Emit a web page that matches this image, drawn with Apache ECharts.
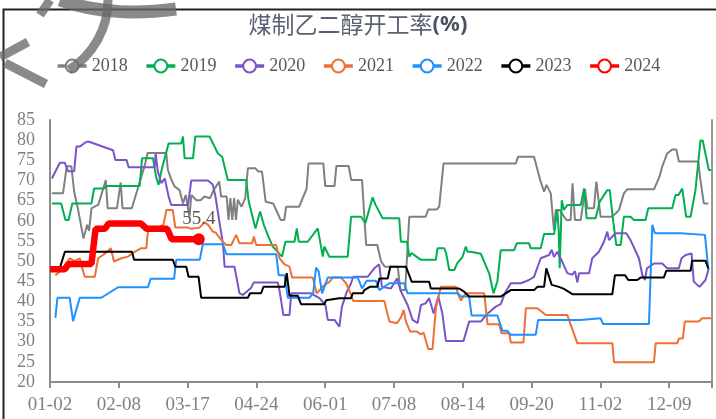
<!DOCTYPE html>
<html>
<head>
<meta charset="utf-8">
<script src="https://cdn.jsdelivr.net/npm/echarts@6/dist/echarts.min.js"></script>
<style>
  html, body { margin: 0; padding: 0; background: #fff; }
  #chart { width: 716px; height: 419px; }
</style>
</head>
<body>
<div id="chart"></div>
<script>
// x = day index counted from 01-02, y = 开工率 (%)
var tickLabels = ["01-02", "02-08", "03-17", "04-24", "06-01", "07-08", "08-14", "09-20", "11-02", "12-09"];
var years = ["2018", "2019", "2020", "2021", "2022", "2023", "2024"];
var colors = ["#808080", "#00b050", "#7b55c8", "#ed7035", "#1e90ff", "#000000", "#ff0000"];

var s2018 = [[1,66.8],[7,66.8],[9,73.5],[11.5,73.5],[13,67.2],[15,63],[18,55.6],[20,59],[21,57.5],[22.3,63.1],[26,64],[30,70.1],[31,63.1],[36,63.1],[38,69.5],[39,63.1],[44,63.1],[51,73.8],[52.5,76.8],[62.5,76.8],[63.4,72.6],[65,70.5],[67,68.5],[69.7,67.6],[71.5,64.3],[73,66.4],[74,66],[75,61],[76,66.4],[78.7,65.1],[81,65.1],[83,66],[86,65.6],[88,67.6],[91,69.7],[92,66],[95,66],[96,60.2],[97,65.6],[98,60.2],[99,65.6],[100,60.2],[101,65.2],[103,63.5],[105,65.6],[106.4,73],[110.5,73],[112,72.2],[114,72.2],[116,64.7],[120,64.3],[122,62.3],[124,60.2],[126,60.2],[127,63.5],[134,63.5],[138,68],[139,74.2],[147,74.2],[148,68.6],[153,68.6],[154,73.6],[160.6,73.6],[162,70.1],[167.8,70.1],[170,54],[176,54],[178,50],[180,48.6],[187,48.6],[188.4,42.8],[191,42.8],[193.2,61],[202,61],[203.4,62.8],[208,62.8],[209.3,63.5],[211.6,74.2],[250.5,74.2],[251.7,75.9],[260.3,75.9],[263.6,70.1],[265.7,67.2],[267,68.9],[269.3,66.8],[271,57.7],[272,62.7],[274,62.7],[277.7,60.2],[280,60.2],[281,69.3],[282.3,60.2],[285.4,60.2],[286.3,63.1],[287,63.1],[287.7,67.9],[289,63.1],[292.5,63.1],[293.8,69.7],[296.1,61],[302,61],[304.2,61.8],[306,62.7],[308.6,66.8],[310.4,67.8],[324.8,67.8],[326.6,69.7],[327.8,71],[329.2,73.4],[331.9,76.7],[334.6,77.7],[336.8,77.7],[338.2,74.7],[348.6,74.7],[349.8,70],[351.6,64.3],[354,64.3]];

var s2019 = [[1,64.3],[6,64.3],[8.3,60.2],[10,60.2],[12,64.3],[22.3,64.3],[23.7,68],[29,68],[30.3,68.6],[48.2,68.6],[49.5,75.5],[55.4,75.5],[57,71],[58.4,68.9],[60,72.6],[63.8,79.2],[70.6,79.2],[71.5,80.9],[72.4,75.5],[76.9,75.5],[78.1,80.9],[85.8,80.9],[90.3,76.7],[92.6,75.9],[95.6,70.1],[105.5,70.1],[106.9,64.7],[110.5,58.1],[113,62.3],[115,59],[117.1,56.5],[119.8,53.6],[124.8,51.1],[126.6,54.8],[131.5,54.8],[132.7,58.1],[133.8,54.8],[138.6,54.8],[144,58.1],[146.7,51.1],[147.5,53.6],[150.2,51.1],[160.1,51.1],[161.9,61],[167.3,61],[169.6,59.4],[173.5,65.8],[175,64],[178.9,60.6],[187.8,60.6],[188.7,54.8],[192,54.8],[193.2,51.1],[194.5,52],[197,51.1],[199.5,50.3],[207.5,50.3],[208.4,53.2],[212,53.2],[213,52],[214.7,47.8],[217.5,47.8],[219,49.5],[221.8,51],[223.6,53.6],[224.5,52.3],[226.3,52.3],[231.7,51.8],[236.2,46.9],[238.5,42],[240.6,45],[242.4,52.7],[249.6,52.7],[251,54.4],[257.6,54.4],[258.5,53.2],[263.9,53.2],[265.7,56.7],[271.1,56.7],[272.8,62.7],[273.5,58],[274.1,48.2],[275.2,65.1],[276.4,62.7],[278.2,63.9],[285.4,63.9],[287.2,68],[288.6,60.6],[293.4,60.6],[295.6,64.7],[299.7,67.6],[301,67.6],[302.7,60.6],[304.5,54],[306.9,54],[308.6,61],[312.2,61],[314,60.2],[320.3,60.2],[321.7,63.1],[334.6,63.1],[336.4,66.4],[338,66.4],[340,68],[342.1,61],[344.5,61],[347.1,67.6],[349.8,79.9],[351,79.9],[354.3,72.6],[355.5,72.6]];

var s2020 = [[1,70.5],[5.3,74.4],[7.9,74.4],[9.7,72.3],[13,72.3],[14.2,78.4],[16,78.4],[19.6,79.6],[21,79.6],[33.9,77.5],[35.2,75.1],[41.1,75.1],[42.3,73.3],[56.3,73.3],[56.8,76.7],[58,72.2],[59.9,69.3],[61.7,70.5],[63.8,66],[65.2,63.9],[74.2,63.9],[76,70],[84.9,70],[87.5,69],[89,66],[91,60],[93,54.4],[93.9,48.6],[99.2,48.6],[101.9,42],[103.7,41.6],[108.2,43.4],[109.6,44.7],[122.5,44.7],[123.4,42.8],[125.5,36.6],[128.8,36.6],[129.7,42],[140.4,42],[144.9,40.8],[148.1,39.1],[149.4,35.4],[153,35.4],[155.6,33.7],[157,38.7],[159.6,42.4],[161.9,44.5],[163.1,46.1],[170.8,46.1],[174.4,48.2],[177,49.2],[178.5,43.6],[183.3,43.2],[186.6,45.7],[188.7,42.5],[192.3,39.1],[195,35.4],[197.7,34.6],[199.5,39.1],[202,39.5],[203.9,40.8],[206.3,37],[207.5,39.1],[208.8,41.2],[211,37],[212.9,30.2],[222.4,30.2],[225.4,35],[231.7,35],[234.4,36.6],[236.2,37.3],[239.7,38.7],[242.4,39.3],[244.6,42],[247.8,44.5],[253.2,44.5],[257.6,45.3],[260.3,46.1],[263.9,50.7],[268.4,51.5],[269.8,52.8],[271,51],[272.8,52.3],[274.6,50.7],[278.2,47],[280.9,46.6],[282.3,47.5],[283.6,44.7],[284.5,47],[289.9,47],[291.6,50.7],[295.2,52.3],[297.9,54.8],[299.7,57.3],[300.6,55.2],[302.4,56.1],[304.2,56.9],[309.9,56.9],[312.2,55.2],[316.7,50.7],[318.5,46.6],[319.9,45.3],[321,48.2],[324.8,49.4],[329.2,49.4],[331.9,48.2],[338.2,48.2],[339.6,50.7],[341.8,51.5],[345,51.9],[346.2,44.9],[349.3,43.6],[352.5,45.3],[354.3,48.2]];

var s2021 = [[2.9,46.5],[6.2,47.8],[8,49],[10.6,50.7],[13.3,50],[16,50.7],[17.5,48],[18.7,46.1],[24.1,46.1],[25.9,50.7],[28.5,51.5],[30.7,52.3],[32.7,53.2],[34.4,49.9],[38.4,50.7],[41.9,51.1],[45.5,52.3],[49.1,53.2],[51.8,53.2],[52.7,57.5],[58.5,58.5],[61,59],[62.6,62.7],[66,62.7],[67.4,58.3],[74.2,58.3],[76,58],[80.4,58.3],[83.1,59.6],[85,59],[87.6,57.3],[89,57.1],[92.5,55],[94.8,54],[97.5,54],[100.1,56.5],[101.9,54.4],[108.7,54.4],[109.6,56.1],[110.9,54],[121.6,54],[123.4,50.7],[126.1,49.2],[128.8,48.6],[130.2,45.9],[141.3,45.9],[143.4,42],[147.6,44.1],[150.2,44.8],[152,45.9],[156.5,45.9],[159.2,44.5],[161.9,41.6],[163.1,40.1],[179.8,40.1],[182.5,35],[183,34.6],[186.6,34.6],[188.7,36],[190.2,37.9],[191.4,35],[193.7,32.5],[197.3,32.5],[199.5,31.8],[200.9,32.3],[203.4,28.2],[205.7,28.2],[207.5,38.3],[210.2,43.6],[218.3,43.6],[220,41.2],[221,40.2],[222,41],[223.6,42],[233.5,42],[235.3,34.3],[241.5,34.3],[242.8,32.1],[246.9,32.1],[247.8,29.8],[254.6,29.8],[255.9,38.3],[262.1,38.3],[264.8,37.3],[266.6,36.6],[278.2,36.6],[283.6,29.6],[302.4,29.6],[303.3,24.9],[324.8,24.9],[325.7,29.6],[337.3,29.6],[338.2,30.8],[340.3,30.8],[341.4,35],[348.9,35],[350.7,35.8],[355.5,35.8]];

var s2022 = [[2.9,35.9],[4,40.9],[10.6,40.9],[12.4,35.1],[16,40.9],[27.6,40.9],[36.6,43.5],[52.7,43.5],[54.1,45.6],[66.7,45.6],[67.9,50.3],[80.5,50.3],[82.2,54.2],[93,54.2],[94.8,51.7],[121.6,51.7],[123,46.5],[126.1,46.5],[127.9,40.9],[139.5,40.9],[141.5,42],[143.1,48.4],[144.5,47.4],[146.3,42],[149.4,45.9],[165.5,45.9],[167.8,43.2],[170.3,45.1],[175.3,45.1],[177.1,42.8],[182.5,44.5],[190.5,44.5],[192.3,42],[219.2,42],[221,41.2],[225.4,41.2],[226.7,36.5],[240.6,36.5],[243.3,32.7],[246,32.7],[247.8,31.7],[261.2,31.7],[262.5,35.4],[285.4,35.4],[286.3,35.8],[296.1,35.8],[297.4,34.4],[322.1,34.4],[323.9,59],[325.3,56.9],[339.1,56.9],[340,56.5],[352.2,56.5],[354,48]];

var s2023 = [[0,48.3],[5.3,48.3],[8,52.3],[44.1,52.3],[45.2,50.3],[66.1,50.3],[67.4,48.6],[73.3,48.6],[74.5,46.1],[79.9,46.1],[81.3,40.9],[106.4,40.9],[107.6,42],[113.5,42],[114.8,43.6],[126.1,43.6],[127.3,47],[128.8,41.4],[133.2,41.4],[135,39.3],[147.6,39.3],[148.5,40.3],[155.6,40.8],[161.9,40.8],[162.8,42],[168.2,42],[169,42.8],[172,43.6],[176,43.6],[177.1,45.7],[181.6,45.7],[183,48.6],[191.4,48.6],[194.5,44.9],[203.9,44.9],[204.8,43.2],[220,43.2],[222.7,42.4],[225.4,41.2],[242.4,41.2],[245.1,42],[247.8,42.8],[260.3,42.8],[262.1,43.6],[265.7,43.6],[266.9,48.2],[269.8,44.1],[273.7,43.6],[276.4,43.1],[280.9,41.8],[302.4,41.8],[303.8,46.5],[309.2,46.5],[311,45.3],[315.8,45.3],[317.6,45.9],[330.1,45.9],[331.4,47.6],[344.5,47.6],[345.3,50.1],[352.5,50.1],[354,48.2]];

var s2024 = [[0,48],[8,48],[10,49.3],[22.3,49.3],[24.5,58],[29.5,58],[31.5,59.3],[49,59.3],[52,58],[63,58],[65.5,55.4],[80,55.4]];

var allData = [s2018, s2019, s2020, s2021, s2022, s2023, s2024];

var chart = echarts.init(document.getElementById("chart"));

var series = years.map(function (y, i) {
  var last = i === years.length - 1;
  var data = allData[i];
  if (last) {
    data = allData[i].map(function (p, j) {
      if (j === allData[i].length - 1) {
        return {
          value: p,
          symbol: "circle",
          symbolSize: 12,
          label: {
            show: true,
            position: "top",
            distance: 5,
            formatter: function (pr) { return pr.value[1]; },
            color: "#595959",
            fontSize: 19,
            fontFamily: "Liberation Serif"
          }
        };
      }
      return { value: p, symbol: "none" };
    });
  }
  return {
    name: y,
    type: "line",
    data: data,
    showSymbol: last,
    symbol: "emptyCircle",
    symbolSize: 9,
    lineStyle: { width: last ? 6.5 : 2, color: colors[i] },
    itemStyle: { color: colors[i], borderWidth: 3 },
    z: 2 + i
  };
});

var option = {
  animation: false,
  backgroundColor: "#fff",
  title: {
    text: "{a|煤制乙二醇开工率}{b|(%)}",
    left: "center",
    top: 8,
    textStyle: {
      rich: {
        a: { fontFamily: "Noto Sans CJK SC", fontSize: 23, color: "#5c6272", fontWeight: "normal" },
        b: { fontFamily: "Noto Sans", fontSize: 22, color: "#4a5162", fontWeight: "bold" }
      }
    }
  },
  legend: {
    data: years,
    top: 52,
    left: "center",
    itemWidth: 29,
    itemHeight: 16,
    itemGap: 17,
    lineStyle: { width: 3.5 },
    textStyle: { fontFamily: "Liberation Serif", fontSize: 18, color: "#595959" }
  },
  grid: { left: 50, right: 4, top: 120, bottom: 37 },
  xAxis: {
    type: "value",
    min: 0,
    max: 356,
    interval: 37,
    axisLine: { show: true, lineStyle: { color: "#8c8c8c", width: 2 } },
    axisTick: { show: true, length: 6, lineStyle: { color: "#8c8c8c", width: 2 } },
    splitLine: { show: false },
    axisLabel: {
      margin: 14,
      color: "#808080",
      fontFamily: "Liberation Serif",
      fontSize: 19,
      formatter: function (v) {
        return v % 37 === 0 ? (tickLabels[v / 37] || "") : "";
      }
    }
  },
  yAxis: [{
    type: "value",
    min: 20,
    max: 85,
    interval: 5,
    axisLine: { show: true, lineStyle: { color: "#8c8c8c", width: 2 } },
    axisTick: { show: false },
    splitLine: { show: false },
    axisLabel: { margin: 15, color: "#808080", fontFamily: "Liberation Serif", fontSize: 18 }
  }, {
    type: "value",
    min: 20,
    max: 85,
    position: "right",
    axisLine: { show: true, lineStyle: { color: "#9a9a9a", width: 2 } },
    axisTick: { show: false },
    splitLine: { show: false },
    axisLabel: { show: false }
  }],
  graphic: [
    { type: "rect", z: 100, silent: true, shape: { x: 3.5, y: 9.5, width: 800, height: 500 },
      style: { fill: "none", stroke: "#222", lineWidth: 2 } },
    { type: "arc", z: 101, silent: true, shape: { cx: 26, cy: 0, r: 82, startAngle: 0, endAngle: 1.02 },
      style: { fill: "none", stroke: "rgba(105,105,105,0.78)", lineWidth: 9 } },
    { type: "bezierCurve", z: 101, silent: true, shape: { x1: 60, y1: 0, cpx1: 110, cpy1: 18, x2: 176, y2: 9 },
      style: { fill: "none", stroke: "rgba(105,105,105,0.78)", lineWidth: 13 } },
    { type: "line", z: 101, silent: true, shape: { x1: 50, y1: 0, x2: 40, y2: 15 },
      style: { stroke: "rgba(105,105,105,0.78)", lineWidth: 9 } },
    { type: "line", z: 101, silent: true, shape: { x1: 0, y1: 57, x2: 28, y2: 42 },
      style: { stroke: "rgba(105,105,105,0.78)", lineWidth: 9 } },
    { type: "line", z: 101, silent: true, shape: { x1: 5, y1: 63, x2: 46, y2: 84 },
      style: { stroke: "rgba(105,105,105,0.78)", lineWidth: 9 } }
  ],
  series: series
};

chart.setOption(option);
window.addEventListener("resize", function () {
  chart.resize();
});
</script>
</body>
</html>
